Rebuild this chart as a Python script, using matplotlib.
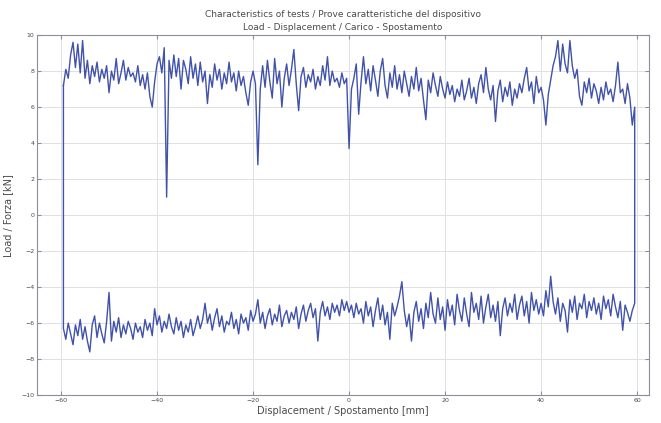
import numpy as np
import matplotlib
matplotlib.use("Agg")
import matplotlib.pyplot as plt

# displacement samples [mm], same grid for both branches
disp = np.arange(-59.5, 60, 0.5)

# loading branch (going right), load in kN
load_top = [
    7.2, 8.1, 7.6, 8.9, 9.6, 8.2, 9.5, 7.9, 9.7, 7.6, 8.6, 7.3, 8.3, 7.7, 8.5, 7.4, 8.1, 7.6, 8.3, 6.8,
    8.0, 7.5, 8.7, 7.3, 7.9, 8.6, 7.5, 8.2, 7.7, 7.9, 7.4, 8.3, 7.2, 7.8, 7.0, 7.9, 6.6, 6.0, 7.4, 8.4,
    8.8, 7.9, 9.3, 1.0, 8.6, 7.6, 8.9, 7.7, 8.7, 7.0, 8.6, 8.1, 7.3, 8.8, 7.6, 8.4, 7.2, 8.5, 7.4, 8.0,
    6.2, 7.8, 7.1, 8.4, 7.5, 8.1, 7.0, 7.9, 7.3, 8.5, 7.4, 7.9, 6.9, 8.0, 7.2, 7.7, 6.8, 6.1, 7.4, 8.0,
    7.3, 2.8, 7.0, 8.3, 7.1, 8.6, 7.4, 6.5, 8.7, 7.3, 8.0, 6.0, 7.6, 8.4, 7.2, 8.1, 9.2, 7.3, 5.8, 7.7,
    8.2, 7.1, 7.8, 7.4, 8.1, 7.0, 7.7, 7.2, 8.3, 7.5, 8.8, 7.2, 8.0, 7.4, 7.6, 7.1, 7.9, 7.3, 7.6, 3.7,
    7.0, 7.6, 8.4, 5.6, 7.4, 8.8, 7.3, 8.1, 6.9, 8.3, 7.5, 6.6, 8.0, 8.7, 7.2, 6.5, 7.9, 7.1, 8.3, 7.0,
    7.8, 6.8, 8.0, 7.3, 6.6, 7.7, 7.0, 8.2, 6.9, 7.6, 6.4, 5.3, 7.5, 6.8, 7.9, 7.2, 6.6, 7.7, 7.0, 6.5,
    7.4, 6.7, 7.2, 6.3, 7.0, 6.6, 7.5, 6.4, 6.9, 7.6, 6.5, 7.1, 6.2, 7.3, 7.8, 6.8, 8.2, 7.0, 6.4, 7.2,
    5.2, 6.9, 7.5, 6.3, 7.1, 6.6, 7.4, 6.1, 7.0, 6.5, 7.3, 6.8, 7.6, 8.2, 6.9, 7.4, 6.2, 7.7, 6.8, 7.1,
    6.4, 5.0, 6.7, 7.5, 8.3, 8.8, 9.7, 8.0, 9.5, 8.4, 7.9, 9.7, 8.3, 7.6, 8.1, 6.6, 6.1, 7.4, 6.8, 7.6,
    6.5, 7.3, 6.9, 6.2, 7.1, 6.4, 7.4, 6.7, 7.0, 6.3, 7.2, 8.5, 6.8, 7.0, 6.2, 7.3, 6.5, 5.0, 6.0,
]

# unloading branch (going left), load in kN
load_bot = [
    -6.3, -6.9, -6.0, -6.6, -7.2, -6.1, -6.7, -5.8, -6.9, -6.2, -7.0, -7.6, -6.1, -5.6, -6.8, -6.0, -6.6, -7.1, -5.9, -4.3,
    -7.0, -5.9, -6.5, -5.7, -6.8, -6.1, -6.6, -5.9, -6.3, -6.9, -6.0, -6.5, -6.2, -6.8, -5.8, -6.4, -6.0, -6.7, -5.2, -6.1,
    -5.6, -6.5, -5.9, -6.3, -5.5, -6.2, -6.6, -5.7, -6.4, -5.9, -6.8, -6.1, -6.5, -5.8, -6.7, -6.2, -5.6, -6.3, -5.8, -4.9,
    -6.0, -5.5, -6.4, -5.7, -5.2, -6.2, -5.6, -6.5, -5.9, -6.1, -5.4, -6.3, -5.8, -6.6, -5.5, -6.0, -5.7, -6.4, -5.3, -5.9,
    -5.5, -4.7, -6.0, -5.4, -6.3, -5.6, -5.2, -6.1, -5.5, -5.9, -5.0, -6.2, -5.6, -5.3, -6.0, -5.4, -5.8, -5.1, -6.3, -5.5,
    -5.0, -5.9, -5.3, -4.9, -5.7, -5.2, -7.0, -5.4, -4.8, -5.6, -5.1, -5.8, -4.9, -5.4, -5.0, -5.6, -4.7, -5.3, -4.8, -5.4,
    -5.0, -5.7, -4.9, -5.5, -5.2, -6.0, -4.8, -5.6, -5.1, -6.2, -5.3, -4.6, -5.8, -5.0, -6.1, -5.4, -6.9, -4.9, -5.6, -5.1,
    -4.5, -3.7, -5.3, -6.2, -5.5, -7.0, -5.4, -4.8, -5.9, -5.2, -6.3, -4.9, -5.7, -4.3, -5.5, -6.0, -4.6, -5.8, -5.1, -6.4,
    -4.7, -5.6, -5.0, -6.1, -4.4, -5.3, -5.9, -4.6, -5.5, -6.2, -4.3, -5.4, -4.9, -5.8, -4.5, -6.0, -5.1, -4.4, -5.7, -5.0,
    -5.9, -4.8, -6.7, -5.2, -4.6, -5.6, -4.9, -5.4, -4.4, -5.8, -5.0, -4.5, -5.6, -4.8, -6.0, -4.3, -5.3, -4.7, -5.5, -4.9,
    -5.6, -4.2, -5.1, -3.4, -4.8, -5.5, -4.6, -5.9, -4.9, -5.3, -6.5, -4.7, -5.4, -4.5, -5.8, -4.9, -5.2, -4.4, -5.7, -4.8,
    -5.3, -4.6, -5.5, -4.9, -5.8, -4.5, -5.2, -4.7, -5.6, -4.4, -5.1, -5.7, -4.8, -6.4, -5.0, -5.4, -5.9, -5.3, -4.9,
]

x_ticks = [-60, -40, -20, 0, 20, 40, 60]
y_ticks = [-10, -8, -6, -4, -2, 0, 2, 4, 6, 8, 10]

# closed loop: right along the top, down, back left along the bottom, up
xs = np.concatenate([disp, disp[::-1], disp[:1]])
ys = np.concatenate([load_top, load_bot[::-1], load_top[:1]])

txt = "#4a4a4a"
fig = plt.figure(figsize=(6.61, 4.23), dpi=100)
ax = fig.add_axes([0.056, 0.066, 0.926, 0.851])
ax.plot(xs, ys, color="#4052aa", lw=1.0)

ax.set_xlim(-65, 62.5)
ax.set_ylim(-10, 10)
ax.set_xticks(x_ticks)
ax.set_yticks(y_ticks)
ax.grid(True, color="#dde0e6", lw=0.7)
ax.tick_params(direction="in", top=True, right=True, length=3, labelsize=4.5,
               colors="#8a8f99", labelcolor=txt, pad=2)
for s in ax.spines.values():
    s.set_color("#8a8f99")
    s.set_linewidth(0.8)

ax.set_xlabel("Displacement / Spostamento [mm]", fontsize=7, color=txt, labelpad=2)
ax.set_ylabel("Load / Forza [kN]", fontsize=7, color=txt, labelpad=6)
ax.set_title("Characteristics of tests / Prove caratteristiche del dispositivo\n"
             "Load - Displacement / Carico - Spostamento",
             fontsize=6.5, color=txt, pad=4, linespacing=1.5)

fig.savefig("out.png", dpi=100)
